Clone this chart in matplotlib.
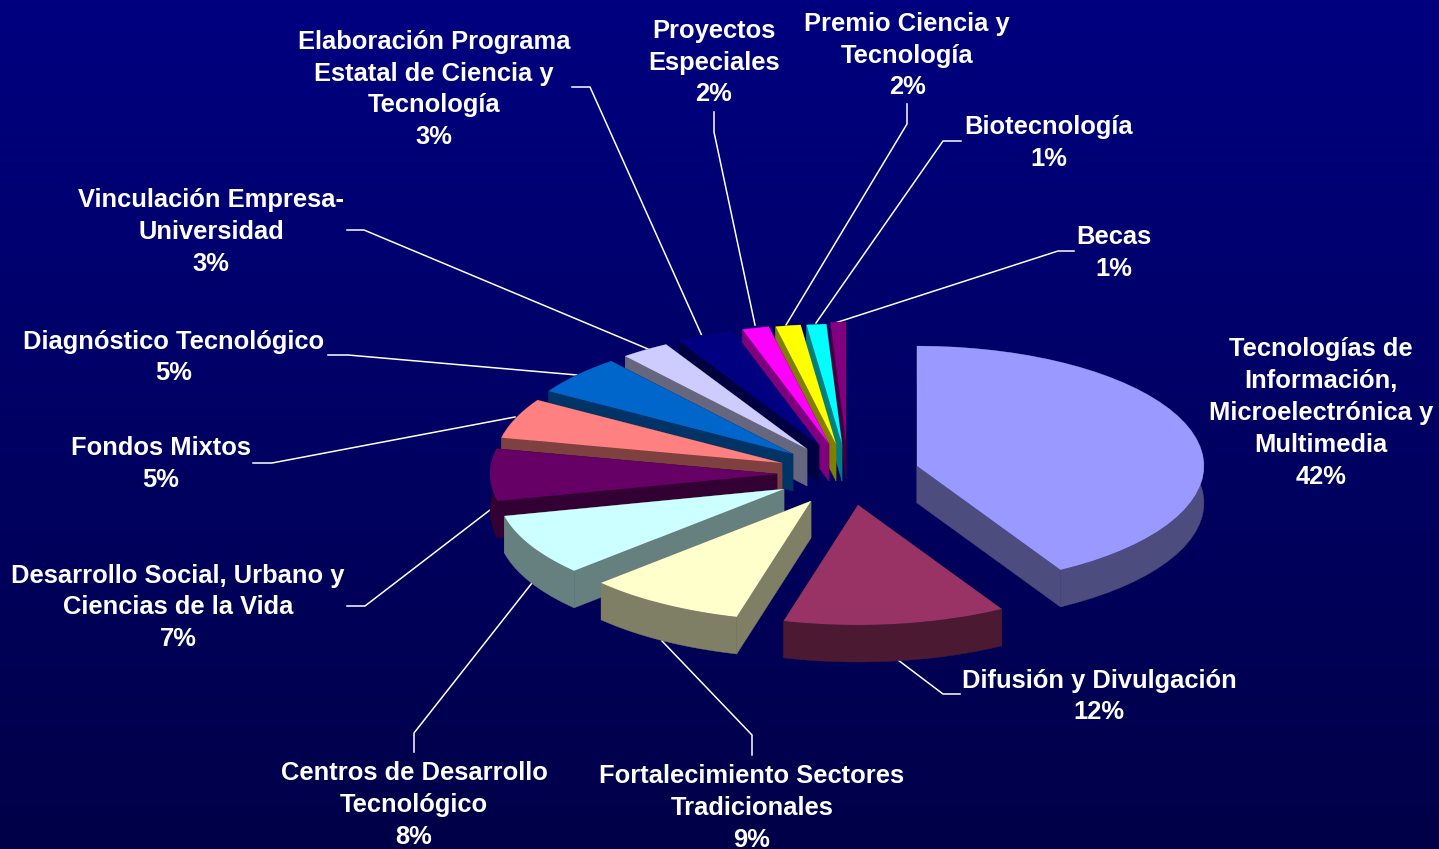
"""
3D exploded pie of the science and technology budget, slices drawn as polygons
on an axes that uses the picture's pixels as units.
"""
import numpy as np
import matplotlib
matplotlib.use('Agg')
import matplotlib.pyplot as plt
from matplotlib.patches import Polygon

# shares in percent, clockwise from the top of the pie
categories = ['Tecnologías de\nInformación,\nMicroelectrónica y\nMultimedia',
              'Difusión y Divulgación',
              'Fortalecimiento Sectores\nTradicionales',
              'Centros de Desarrollo\nTecnológico',
              'Desarrollo Social, Urbano y\nCiencias de la Vida',
              'Fondos Mixtos',
              'Diagnóstico Tecnológico',
              'Vinculación Empresa-\nUniversidad',
              'Elaboración Programa\nEstatal de Ciencia y\nTecnología',
              'Proyectos\nEspeciales',
              'Premio Ciencia y\nTecnología',
              'Biotecnología',
              'Becas']
shares = [41.67, 12.5, 8.89, 8.33, 7.0, 5.4, 5.3, 2.75, 3.3, 1.5, 1.4, 1.1, 0.87]
pct_labels = ['42%', '12%', '9%', '8%', '7%', '5%', '5%', '3%', '3%', '2%', '2%', '1%', '1%']
colors = ['#9999FF', '#993366', '#FFFFCC', '#CCFFFF', '#660066', '#FF8080', '#0066CC',
          '#CCCCFF', '#000080', '#FF00FF', '#FFFF00', '#00FFFF', '#800080']

# layout, in pixels of the picture
RX, RY, DEPTH = 287, 120, 37
apex = [(917, 466), (858, 505), (811, 501), (784, 489), (777, 474), (782, 463), (793, 454),
        (807, 449), (819, 445), (829, 444), (836, 444), (842, 444), (846, 442)]
label_pos = [(1321, 413), (1099, 696.5), (752, 808), (414, 805), (178, 607.5), (161, 464),
             (174, 357.5), (211, 232), (434, 89.5), (714, 62.5), (907, 55.5), (1049, 143), (1114, 253)]
leaders = [None,
           [(898, 660), (943, 694), (960, 694)],
           [(662, 641), (752, 735), (752, 755)],
           [(532, 583), (414, 733), (414, 752)],
           [(490, 510), (365, 606), (347, 606)],
           [(515, 417), (272, 463), (253, 463)],
           [(577, 375), (348, 355), (328, 355)],
           [(648, 349), (364, 230), (347, 230)],
           [(702, 336), (590, 87), (572, 87)],
           [(755, 325), (714, 132), (714, 112)],
           [(786, 325), (907, 124), (907, 104)],
           [(816, 323), (943, 141), (961, 141)],
           [(835, 323), (1058, 251), (1074, 251)]]

fig = plt.figure(figsize=(14.39, 8.49), dpi=100)
ax = fig.add_axes([0, 0, 1, 1])
ax.set_xlim(0, 1439)
ax.set_ylim(849, 0)
ax.axis('off')

# background fades from navy to a darker navy
grad = np.linspace(0, 1, 256).reshape(-1, 1)
bg = np.zeros((256, 1, 3))
bg[:, 0, 2] = (128 - 56 * grad[:, 0]) / 255
ax.imshow(bg, extent=(0, 1439, 849, 0), aspect='auto', zorder=0)

for seg in leaders:
    if seg is not None:
        xs, ys = zip(*seg)
        ax.plot(xs, ys, color='white', lw=1.1, zorder=1)

# the slices at the back go first, each one covers the ones behind it
angle = np.cumsum([0] + shares) / sum(shares) * 2 * np.pi
down = np.array([0, DEPTH])
for i in range(len(shares)):
    z = 20 - i
    t = np.linspace(angle[i], angle[i + 1], 40)
    x0, y0 = apex[i]
    tip = np.array([x0, y0])
    rim = np.column_stack((x0 + RX * np.sin(t), y0 - RY * np.cos(t)))
    wall = tuple(int(c * 127.5) / 255 for c in matplotlib.colors.to_rgb(colors[i]))
    faces = [np.vstack((rim, rim[::-1] + down)),
             [tip, rim[0], rim[0] + down, tip + down],
             [tip, rim[-1], rim[-1] + down, tip + down]]
    for face in faces:
        ax.add_patch(Polygon(face, closed=True, fc=wall, ec=wall, lw=0.3, zorder=z))
    ax.add_patch(Polygon(np.vstack((tip, rim)), closed=True, fc=colors[i], ec='none', zorder=z))

for name, pct, (x, y) in zip(categories, pct_labels, label_pos):
    ax.text(x, y, name + '\n' + pct, color='white', fontsize=18.35, fontweight='bold',
            family=['Liberation Sans', 'DejaVu Sans'], ha='center', va='center',
            linespacing=1.41, zorder=30)

fig.savefig('out.png', dpi=100)
